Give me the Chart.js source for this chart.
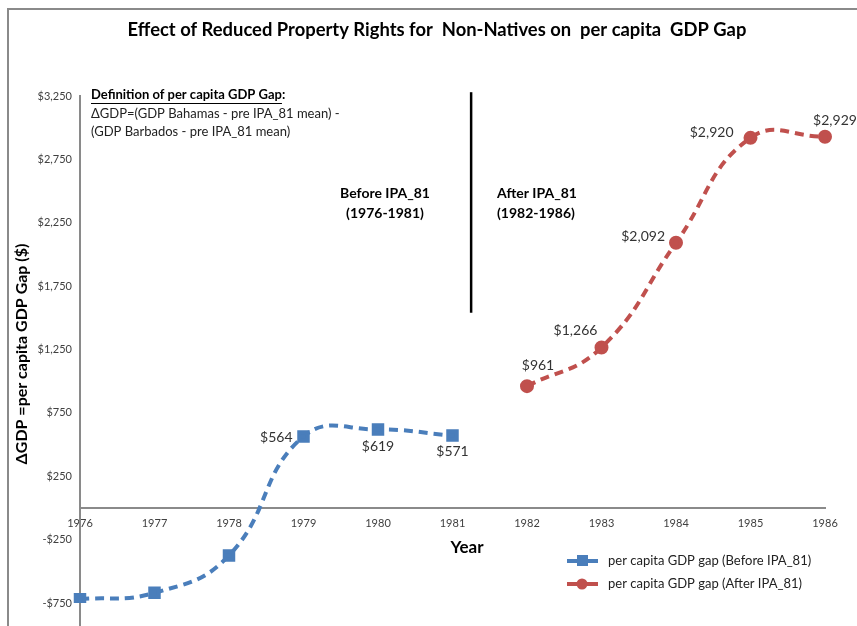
<!DOCTYPE html>
<html>
<head>
<meta charset="utf-8">
<script src="https://cdn.jsdelivr.net/npm/chart.js@4.4.0/dist/chart.umd.min.js"></script>
<style>
  html, body { margin: 0; padding: 0; background: #fff; }
  #wrap { position: relative; width: 857px; height: 626px; overflow: hidden; }
  #frame { position: absolute; left: 7px; top: 8px; width: 900px; height: 700px; border-left: 2px solid #8a8a8a; border-top: 2px solid #8a8a8a; }
  canvas { position: absolute; left: 0; top: 0; }
</style>
</head>
<body>
<div id="wrap">
  <div id="frame"></div>
  <canvas id="c" width="857" height="626"></canvas>
</div>
<script>
// ---- data ----
const years = ['1976','1977','1978','1979','1980','1981','1982','1983','1984','1985','1986'];
const beforeValues = [-720, -670, -375, 564, 619, 571, null, null, null, null, null];
const afterValues  = [null, null, null, null, null, null, 961, 1266, 2092, 2920, 2929];
const yTickValues  = [-750, -250, 250, 750, 1250, 1750, 2250, 2750, 3250];
const dividerYear = 5.25;          // category index between 1981 and 1982
const dividerRange = [1540, 3280]; // value range of the vertical divider

const blue = '#4a7ebb';
const red = '#c0504d';
const FONT = 'Lato, "Liberation Sans", sans-serif';

function fmt(v) {
  const s = '$' + Math.abs(v).toLocaleString('en-US');
  return v < 0 ? '-' + s : s;
}

// label placement (style): [dx, dy, textAlign]
const labelPlacement = {
  0: {3: [-11, 1, 'right'], 4: [0, 17, 'center'], 5: [0, 16, 'center']},
  1: {6: [11, -21, 'center'], 7: [-26, -17, 'center'], 8: [-11, -6, 'right'], 9: [-17, -5, 'right'], 10: [10, -16, 'center']}
};

const overlay = {
  id: 'overlay',
  afterDatasetsDraw(chart) {
    const ctx = chart.ctx;
    const xs = chart.scales.x, ys = chart.scales.y;
    ctx.save();
    // extend y axis line below
    ctx.strokeStyle = '#8a8a8a'; ctx.lineWidth = 2;
    ctx.beginPath(); ctx.moveTo(chart.chartArea.left, chart.chartArea.bottom); ctx.lineTo(chart.chartArea.left, 626); ctx.stroke();

    // divider line
    const step = xs.getPixelForValue(1) - xs.getPixelForValue(0);
    const dx = xs.getPixelForValue(0) + dividerYear * step;
    ctx.strokeStyle = '#000'; ctx.lineWidth = 2.5;
    ctx.beginPath(); ctx.moveTo(dx, ys.getPixelForValue(dividerRange[1])); ctx.lineTo(dx, ys.getPixelForValue(dividerRange[0])); ctx.stroke();

    // data labels
    ctx.font = '14px ' + FONT; ctx.fillStyle = '#333'; ctx.textBaseline = 'middle';
    chart.data.datasets.forEach((ds, di) => {
      const meta = chart.getDatasetMeta(di);
      const pl = labelPlacement[di] || {};
      meta.data.forEach((pt, i) => {
        if (ds.data[i] == null || !pl[i]) return;
        const [ox, oy, al] = pl[i];
        ctx.textAlign = al;
        ctx.fillText(fmt(ds.data[i]), pt.x + ox, pt.y + oy);
      });
    });

    // title
    ctx.fillStyle = '#000'; ctx.textAlign = 'center';
    ctx.font = 'bold 18.4px ' + FONT;
    ctx.fillText('Effect of Reduced Property Rights for  Non-Natives on  per capita  GDP Gap', 437, 30);

    // axis titles
    ctx.font = 'bold 17px ' + FONT;
    ctx.fillText('Year', 467, 548);
    ctx.font = 'bold 16px ' + FONT;
    ctx.save(); ctx.translate(22, 354); ctx.rotate(-Math.PI / 2);
    ctx.fillText('\u0394GDP =per capita GDP Gap ($)', 0, 0);
    ctx.restore();

    // period annotations
    ctx.font = 'bold 14px ' + FONT; ctx.textAlign = 'center';
    ctx.fillText('Before IPA_81', 385, 193);
    ctx.fillText('(1976-1981)', 385, 213);
    ctx.textAlign = 'left';
    ctx.fillText('After IPA_81', 497, 193);
    ctx.fillText('(1982-1986)', 497, 213);

    // definition box
    ctx.font = 'bold 13px ' + FONT;
    const head = 'Definition of per capita GDP Gap';
    ctx.fillText(head, 91, 95);
    const hw = ctx.measureText(head).width;
    ctx.fillText(':', 91 + hw, 95);
    ctx.lineWidth = 1; ctx.strokeStyle = '#000';
    ctx.beginPath(); ctx.moveTo(91, 103.5); ctx.lineTo(91 + hw, 103.5); ctx.stroke();
    ctx.font = '13px ' + FONT; ctx.fillStyle = '#222';
    ctx.fillText('\u0394GDP=(GDP Bahamas - pre IPA_81 mean) -', 91, 114);
    ctx.fillText('(GDP Barbados - pre IPA_81 mean)', 91, 132);

    // legend
    const items = [
      {text: 'per capita GDP gap (Before IPA_81)', color: blue, style: 'rect'},
      {text: 'per capita GDP gap (After IPA_81)', color: red, style: 'circle'}
    ];
    items.forEach((it, k) => {
      const y = 561 + k * 23;
      ctx.strokeStyle = it.color; ctx.lineWidth = 4; ctx.setLineDash([]);
      ctx.beginPath(); ctx.moveTo(567, y); ctx.lineTo(598, y); ctx.stroke();
      ctx.fillStyle = it.color;
      if (it.style === 'rect') ctx.fillRect(577, y - 6, 11, 11);
      else { ctx.beginPath(); ctx.arc(582, y, 5.5, 0, Math.PI * 2); ctx.fill(); }
      ctx.fillStyle = '#222'; ctx.font = '13px ' + FONT; ctx.textAlign = 'left';
      ctx.fillText(it.text, 608, y);
    });
    ctx.restore();
  }
};

new Chart(document.getElementById('c'), {
  type: 'line',
  data: {
    labels: years,
    datasets: [
      {
        label: 'per capita GDP gap (Before IPA_81)',
        data: beforeValues,
        borderColor: blue, backgroundColor: blue,
        borderWidth: 4, borderDash: [9, 6],
        pointStyle: 'rect', pointRadius: 6, pointHoverRadius: 6,
        tension: 0.45, spanGaps: false, fill: false
      },
      {
        label: 'per capita GDP gap (After IPA_81)',
        data: afterValues,
        borderColor: red, backgroundColor: red,
        borderWidth: 4, borderDash: [9, 6],
        pointStyle: 'circle', pointRadius: 5, pointHoverRadius: 5,
        tension: 0.45, spanGaps: false, fill: false
      }
    ]
  },
  plugins: [overlay],
  options: {
    responsive: false,
    animation: false,
    layout: { padding: { left: 0, top: 96, right: 32, bottom: 23 } },
    plugins: { legend: { display: false }, title: { display: false }, tooltip: { enabled: false } },
    scales: {
      x: {
        type: 'category',
        position: { y: 0 },
        offset: false,
        grid: { display: false, drawTicks: false },
        border: { display: true, color: '#8a8a8a', width: 2 },
        ticks: { color: '#404040', font: { family: FONT, size: 11 }, padding: 9, maxRotation: 0, autoSkip: false },
        afterFit(s) { s.height = 0; }
      },
      y: {
        min: -750, max: 3250,
        grid: { display: false, drawTicks: false },
        border: { display: true, color: '#8a8a8a', width: 2 },
        afterBuildTicks(s) { s.ticks = yTickValues.map(v => ({ value: v })); },
        ticks: { color: '#404040', font: { family: FONT, size: 11 }, padding: 8, callback: v => fmt(v) },
        afterFit(s) { s.width = 80; }
      }
    }
  }
});
</script>
</body>
</html>
